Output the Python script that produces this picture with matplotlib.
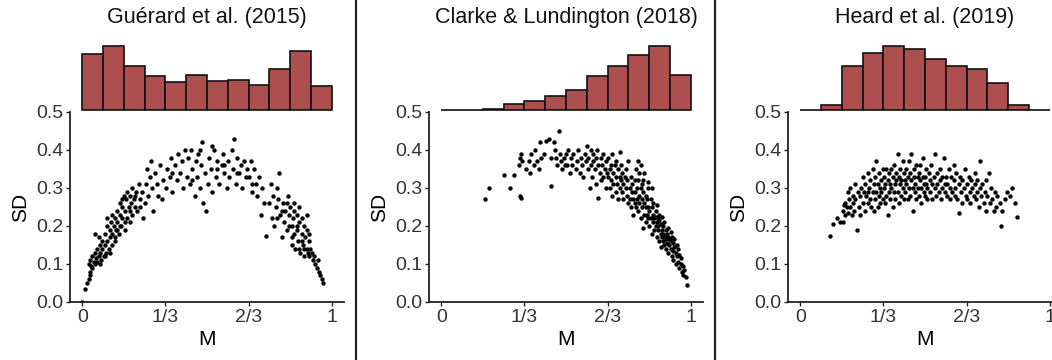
import numpy as np
import matplotlib
matplotlib.use("Agg")
import matplotlib.pyplot as plt
from matplotlib.lines import Line2D

plt.rcParams["font.family"] = ["Liberation Sans", "DejaVu Sans"]

# ── data ──────────────────────────────────────────────────────────────────────
titles = ["Guérard et al. (2015)", "Clarke & Lundington (2018)", "Heard et al. (2019)"]
tick_pos = [0, 1 / 3, 2 / 3, 1]
tick_lab = ["0", "1/3", "2/3", "1"]
bin_edges = np.linspace(0, 1, 13)

# histogram heights
hist_guerard = [67, 76, 52, 40, 33, 42, 34, 36, 30, 49, 70, 28]
hist_clarke = [0, 0, 1, 7, 11, 17, 24, 40, 52, 65, 76, 42]
hist_heard = [0, 6, 52, 68, 76, 72, 60, 52, 49, 32, 6, 0]

m_guerard = [
    0.00, 0.01, 0.02, 0.025, 0.03, 0.03, 0.025, 0.03, 0.035, 0.04, 0.04, 0.045, 0.05,
    0.05, 0.055, 0.06, 0.06, 0.065, 0.07, 0.07, 0.075, 0.08, 0.08, 0.05, 0.065,
    0.085, 0.09, 0.09, 0.095, 0.10, 0.10, 0.10, 0.105, 0.11, 0.11, 0.115, 0.12, 0.12, 0.12,
    0.125, 0.13, 0.13, 0.135, 0.14, 0.14, 0.145, 0.15, 0.15, 0.155, 0.16, 0.16, 0.165,
    0.17, 0.17, 0.175, 0.18, 0.185, 0.19, 0.19, 0.195, 0.20, 0.20, 0.205, 0.21, 0.215,
    0.22, 0.225, 0.23, 0.24, 0.245,
    0.25, 0.255, 0.26, 0.265, 0.27, 0.275, 0.28, 0.285, 0.29, 0.30, 0.305, 0.31, 0.32, 0.325,
    0.335, 0.34, 0.35, 0.355, 0.36, 0.37, 0.38, 0.385, 0.39, 0.40, 0.405, 0.41,
    0.42, 0.425, 0.43, 0.435, 0.44, 0.45, 0.455, 0.46, 0.465, 0.47, 0.475, 0.48, 0.485,
    0.49, 0.495,
    0.505, 0.51, 0.515, 0.52, 0.53, 0.535, 0.54, 0.55, 0.56, 0.565, 0.57, 0.58,
    0.585, 0.59, 0.60, 0.605, 0.61, 0.615, 0.62, 0.63, 0.635, 0.64, 0.65, 0.655, 0.66,
    0.67, 0.675, 0.68, 0.69, 0.695, 0.70, 0.71, 0.715, 0.72, 0.73, 0.735,
    0.75, 0.755, 0.76, 0.765, 0.77, 0.775, 0.78, 0.785, 0.79, 0.795, 0.80, 0.805, 0.81,
    0.815, 0.82, 0.825, 0.83,
    0.835, 0.84, 0.84, 0.845, 0.85, 0.85, 0.855, 0.86, 0.86, 0.865, 0.87, 0.87, 0.875,
    0.88, 0.88, 0.885, 0.89, 0.89, 0.895, 0.90, 0.90, 0.905, 0.91, 0.91, 0.915,
    0.92, 0.925, 0.93, 0.935, 0.94, 0.945, 0.95, 0.955, 0.96, 0.965,
    # extra points in the denser parts of the cloud
    0.07, 0.09, 0.11, 0.13, 0.15, 0.17, 0.19, 0.21, 0.23, 0.16, 0.18, 0.14,
    0.36, 0.44, 0.52, 0.57, 0.62, 0.68, 0.47, 0.54,
    0.78, 0.80, 0.82, 0.84, 0.86, 0.88, 0.90, 0.87, 0.85, 0.89, 0.83, 0.91,
]
sd_guerard = [
    0.00, 0.035, 0.05, 0.06, 0.07, 0.08, 0.10, 0.11, 0.095, 0.09, 0.12, 0.105, 0.10,
    0.13, 0.115, 0.14, 0.105, 0.12, 0.15, 0.13, 0.11, 0.16, 0.14, 0.18, 0.17,
    0.12, 0.15, 0.18, 0.13, 0.16, 0.20, 0.22, 0.14, 0.17, 0.19, 0.21, 0.15, 0.18, 0.23,
    0.20, 0.17, 0.22, 0.19, 0.24, 0.21, 0.18, 0.23, 0.26, 0.20, 0.22, 0.25, 0.28,
    0.19, 0.24, 0.27, 0.22, 0.25, 0.28, 0.21, 0.26, 0.23, 0.30, 0.27, 0.25, 0.29,
    0.24, 0.31, 0.27, 0.29, 0.22,
    0.26, 0.31, 0.35, 0.28, 0.33, 0.37, 0.30, 0.24, 0.34, 0.31, 0.28, 0.36, 0.27, 0.32,
    0.30, 0.35, 0.33, 0.38, 0.29, 0.36, 0.32, 0.39, 0.34, 0.37, 0.30, 0.40,
    0.33, 0.38, 0.31, 0.40, 0.35, 0.28, 0.37, 0.33, 0.39, 0.30, 0.36, 0.42, 0.26,
    0.34, 0.24,
    0.31, 0.38, 0.35, 0.29, 0.40, 0.33, 0.37, 0.31, 0.36, 0.39, 0.34, 0.30,
    0.37, 0.33, 0.40, 0.35, 0.43, 0.31, 0.38, 0.34, 0.36, 0.30, 0.37, 0.33, 0.35,
    0.33, 0.37, 0.29, 0.35, 0.31, 0.28, 0.33, 0.23, 0.30, 0.26, 0.175,
    0.26, 0.31, 0.22, 0.28, 0.20, 0.25, 0.30, 0.27, 0.34, 0.23, 0.17, 0.26, 0.21,
    0.24, 0.19, 0.28, 0.23,
    0.25, 0.20, 0.15, 0.22, 0.18, 0.26, 0.14, 0.23, 0.19, 0.16, 0.21, 0.25, 0.13,
    0.18, 0.22, 0.15, 0.20, 0.12, 0.17, 0.14, 0.23, 0.13, 0.16, 0.12, 0.14,
    0.13, 0.11, 0.12, 0.10, 0.09, 0.11, 0.08, 0.07, 0.06, 0.05,
    0.10, 0.12, 0.13, 0.16, 0.20, 0.21, 0.24, 0.28, 0.25, 0.27, 0.29, 0.19,
    0.34, 0.32, 0.41, 0.36, 0.34, 0.31,
    0.40, 0.35,
    0.22, 0.24, 0.26, 0.17, 0.20, 0.16, 0.19, 0.14, 0.24, 0.14, 0.20, 0.18,
]

m_clarke = [
    0.175, 0.19,
    0.25, 0.275, 0.29, 0.31, 0.315, 0.32, 0.325, 0.315, 0.318,
    0.34, 0.35, 0.355, 0.36, 0.37, 0.375, 0.385, 0.39, 0.40, 0.395, 0.41,
    0.42, 0.43, 0.44, 0.45, 0.455, 0.46, 0.465, 0.47, 0.475, 0.48, 0.485, 0.49, 0.495, 0.44,
    0.50, 0.505, 0.51, 0.515, 0.52, 0.525, 0.53, 0.54, 0.545, 0.55, 0.555, 0.56, 0.565,
    0.57, 0.575, 0.58,
    0.585, 0.59, 0.59, 0.595, 0.60, 0.60, 0.605, 0.61, 0.61, 0.615, 0.62, 0.62, 0.625,
    0.63, 0.63, 0.635, 0.64, 0.64, 0.645, 0.65, 0.65, 0.655, 0.66, 0.66, 0.665,
    0.67, 0.67, 0.675, 0.675, 0.68, 0.68, 0.685, 0.685, 0.69, 0.69, 0.695, 0.70, 0.70,
    0.70, 0.705, 0.71, 0.71, 0.715, 0.715, 0.72, 0.72, 0.725, 0.725, 0.73, 0.73, 0.735,
    0.74, 0.74, 0.745, 0.745, 0.75, 0.75, 0.717,
    0.755, 0.755, 0.76, 0.76, 0.765, 0.765, 0.77, 0.77, 0.775, 0.775, 0.78, 0.78, 0.785,
    0.785, 0.79, 0.79, 0.79, 0.795, 0.795, 0.80, 0.80, 0.80, 0.805, 0.805, 0.81, 0.81,
    0.81, 0.815, 0.815, 0.82, 0.82, 0.82, 0.825, 0.825, 0.83, 0.83, 0.83, 0.815, 0.795,
    0.775, 0.805,
    0.835, 0.835, 0.84, 0.84, 0.845, 0.845, 0.85, 0.85, 0.85, 0.855, 0.855, 0.86, 0.86,
    0.86, 0.865, 0.865, 0.865, 0.87, 0.87, 0.87, 0.875, 0.875, 0.875, 0.88, 0.88, 0.88,
    0.885, 0.885, 0.885, 0.89, 0.89, 0.89, 0.895, 0.895, 0.895, 0.90, 0.90, 0.90, 0.905,
    0.905, 0.91, 0.91, 0.91, 0.915, 0.915, 0.845, 0.83,
    0.92, 0.92, 0.92, 0.925, 0.925, 0.93, 0.93, 0.93, 0.935, 0.935, 0.94, 0.94, 0.945,
    0.945, 0.95, 0.95, 0.955, 0.955, 0.96, 0.96, 0.965, 0.97, 0.97, 0.975, 0.98, 0.985,
]
sd_clarke = [
    0.27, 0.30,
    0.335, 0.30, 0.335, 0.36, 0.38, 0.39, 0.37, 0.28, 0.275,
    0.35, 0.37, 0.34, 0.39, 0.36, 0.40, 0.37, 0.35, 0.38, 0.42, 0.39,
    0.425, 0.43, 0.305, 0.42, 0.40, 0.38, 0.36, 0.45, 0.39, 0.37, 0.35, 0.38, 0.36, 0.38,
    0.39, 0.36, 0.40, 0.34, 0.38, 0.36, 0.39, 0.35, 0.37, 0.40, 0.34, 0.38, 0.36,
    0.33, 0.39, 0.37,
    0.41, 0.35, 0.38, 0.30, 0.40, 0.36, 0.33, 0.39, 0.37, 0.35, 0.38, 0.31, 0.40,
    0.36, 0.275, 0.34, 0.38, 0.32, 0.36, 0.39, 0.33, 0.35, 0.37, 0.30, 0.34,
    0.38, 0.33, 0.35, 0.30, 0.36, 0.32, 0.39, 0.28, 0.34, 0.31, 0.36, 0.33, 0.29,
    0.37, 0.31, 0.35, 0.27, 0.33, 0.30, 0.36, 0.32, 0.29, 0.34, 0.31, 0.27, 0.33,
    0.35, 0.30, 0.28, 0.32, 0.26, 0.37, 0.395,
    0.30, 0.27, 0.33, 0.25, 0.29, 0.31, 0.27, 0.23, 0.32, 0.29, 0.25, 0.35, 0.30,
    0.27, 0.37, 0.24, 0.32, 0.28, 0.26, 0.36, 0.30, 0.22, 0.27, 0.25, 0.29, 0.195,
    0.32, 0.26, 0.23, 0.28, 0.25, 0.21, 0.27, 0.23, 0.30, 0.25, 0.22, 0.34, 0.34,
    0.26, 0.31,
    0.24, 0.20, 0.27, 0.22, 0.25, 0.18, 0.23, 0.21, 0.26, 0.22, 0.19, 0.24, 0.20,
    0.225, 0.21, 0.17, 0.255, 0.22, 0.19, 0.20, 0.16, 0.215, 0.23, 0.18, 0.205, 0.145,
    0.19, 0.225, 0.17, 0.20, 0.16, 0.18, 0.21, 0.15, 0.175, 0.19, 0.165, 0.14, 0.18,
    0.155, 0.17, 0.13, 0.195, 0.15, 0.165, 0.30, 0.315,
    0.185, 0.16, 0.14, 0.17, 0.12, 0.155, 0.135, 0.11, 0.165, 0.145, 0.10, 0.13, 0.15,
    0.12, 0.105, 0.14, 0.09, 0.125, 0.10, 0.115, 0.08, 0.095, 0.07, 0.085, 0.065, 0.045,
]

m_heard = [
    0.12, 0.13, 0.145, 0.16,
    0.17, 0.17, 0.175, 0.18, 0.18, 0.185, 0.19, 0.19, 0.195, 0.20, 0.20, 0.205, 0.21,
    0.21, 0.215, 0.22, 0.22, 0.225, 0.23, 0.235, 0.24, 0.24, 0.245,
    0.25, 0.25, 0.255, 0.26, 0.26, 0.265, 0.27, 0.27, 0.275, 0.28, 0.28, 0.285, 0.29,
    0.29, 0.295, 0.30, 0.30, 0.305, 0.305, 0.31, 0.31, 0.315, 0.315, 0.32, 0.32, 0.325,
    0.325, 0.33, 0.33, 0.295, 0.27,
    0.335, 0.335, 0.34, 0.34, 0.345, 0.345, 0.35, 0.35, 0.355, 0.355, 0.36, 0.36, 0.365,
    0.365, 0.37, 0.37, 0.375, 0.375, 0.38, 0.38, 0.385, 0.385, 0.39, 0.39, 0.395, 0.395,
    0.40, 0.40, 0.405, 0.405, 0.41, 0.41, 0.415, 0.415,
    0.42, 0.42, 0.425, 0.425, 0.43, 0.43, 0.435, 0.435, 0.44, 0.44, 0.445, 0.445, 0.45,
    0.45, 0.455, 0.455, 0.46, 0.46, 0.465, 0.465, 0.47, 0.47, 0.475, 0.475, 0.48, 0.48,
    0.485, 0.485, 0.49, 0.49, 0.495, 0.495,
    0.50, 0.50, 0.505, 0.505, 0.51, 0.51, 0.515, 0.52, 0.52, 0.525, 0.53, 0.53, 0.535,
    0.54, 0.54, 0.545, 0.55, 0.55, 0.555, 0.56, 0.56, 0.565, 0.57, 0.57, 0.575, 0.58, 0.58,
    0.585, 0.59, 0.59, 0.595, 0.60, 0.60, 0.605, 0.61, 0.615, 0.615, 0.62, 0.62, 0.625,
    0.63, 0.635, 0.635, 0.64, 0.645, 0.65, 0.65, 0.655, 0.66, 0.665,
    0.67, 0.67, 0.675, 0.68, 0.68, 0.685, 0.69, 0.695, 0.70, 0.70, 0.705, 0.71, 0.71,
    0.715, 0.72, 0.72, 0.725, 0.73, 0.735, 0.74, 0.745, 0.745,
    0.75, 0.755, 0.76, 0.765, 0.77, 0.775, 0.78, 0.785, 0.79, 0.80, 0.805, 0.81, 0.82, 0.83,
    0.84, 0.85, 0.86, 0.87,
]
sd_heard = [
    0.175, 0.205, 0.22, 0.21,
    0.24, 0.21, 0.255, 0.23, 0.26, 0.25, 0.29, 0.235, 0.27, 0.25, 0.30, 0.23, 0.28,
    0.26, 0.24, 0.31, 0.27, 0.19, 0.29, 0.25, 0.28, 0.23, 0.30,
    0.26, 0.33, 0.29, 0.24, 0.31, 0.28, 0.34, 0.26, 0.30, 0.27, 0.32, 0.25, 0.29,
    0.35, 0.31, 0.27, 0.33, 0.37, 0.29, 0.25, 0.31, 0.28, 0.34, 0.30, 0.26, 0.32,
    0.29, 0.35, 0.27, 0.24, 0.29,
    0.30, 0.33, 0.26, 0.31, 0.35, 0.28, 0.32, 0.23, 0.29, 0.34, 0.27, 0.31, 0.35,
    0.30, 0.25, 0.33, 0.29, 0.36, 0.31, 0.27, 0.34, 0.32, 0.29, 0.39, 0.33, 0.26,
    0.31, 0.35, 0.28, 0.32, 0.37, 0.30, 0.34, 0.27,
    0.32, 0.29, 0.35, 0.31, 0.27, 0.33, 0.37, 0.30, 0.34, 0.28, 0.32, 0.39, 0.30,
    0.24, 0.35, 0.33, 0.29, 0.31, 0.36, 0.27, 0.33, 0.30, 0.34, 0.28, 0.32, 0.36,
    0.30, 0.26, 0.33, 0.38, 0.31, 0.29,
    0.33, 0.28, 0.31, 0.35, 0.30, 0.27, 0.34, 0.32, 0.29, 0.36, 0.31, 0.27, 0.33,
    0.30, 0.39, 0.28, 0.34, 0.31, 0.29, 0.35, 0.32, 0.27, 0.30, 0.33, 0.38, 0.29, 0.31,
    0.33, 0.28, 0.31, 0.35, 0.30, 0.27, 0.33, 0.29, 0.32, 0.36, 0.28, 0.30, 0.34,
    0.27, 0.235, 0.31, 0.33, 0.29, 0.32, 0.26, 0.30, 0.35, 0.28,
    0.31, 0.27, 0.33, 0.29, 0.26, 0.32, 0.30, 0.28, 0.34, 0.31, 0.27, 0.29, 0.32,
    0.25, 0.37, 0.30, 0.28, 0.31, 0.26, 0.29, 0.32, 0.24,
    0.28, 0.34, 0.26, 0.30, 0.27, 0.24, 0.29, 0.25, 0.28, 0.26, 0.20, 0.24, 0.27, 0.29,
    0.28, 0.30, 0.26, 0.225,
]

panels = [
    (m_guerard, sd_guerard, hist_guerard),
    (m_clarke, sd_clarke, hist_clarke),
    (m_heard, sd_heard, hist_heard),
]

# ── layout ────────────────────────────────────────────────────────────────────
W, H = 1052, 360
fig = plt.figure(figsize=(W / 100, H / 100), dpi=100)
fig.patch.set_facecolor("white")

bar_color = "#AD4F4F"
xlim = (-0.05, 1.05)
lefts = [70, 429, 788]
ax_w = 274

for i, (m, sd, counts) in enumerate(panels):
    left = lefts[i] / W

    # scatter
    ax = fig.add_axes([left, 1 - 302 / H, ax_w / W, 190 / H])
    ax.scatter(m, sd, s=10, color="black", linewidths=0)
    ax.set_xlim(*xlim)
    ax.set_ylim(0, 0.5)
    ax.set_xticks(tick_pos)
    ax.set_xticklabels(tick_lab)
    ax.set_yticks([0, 0.1, 0.2, 0.3, 0.4, 0.5])
    ax.set_yticklabels(["0.0", "0.1", "0.2", "0.3", "0.4", "0.5"])
    for s in ["top", "right"]:
        ax.spines[s].set_visible(False)
    for s in ["left", "bottom"]:
        ax.spines[s].set_linewidth(1.3)
        ax.spines[s].set_color("#222222")
    ax.tick_params(labelsize=14, length=3, width=1, colors="#222222",
                   labelcolor="#333333", pad=2)
    ax.set_xlabel("M", fontsize=15, labelpad=3)
    ax.set_ylabel("SD", fontsize=15, labelpad=4)

    # marginal histogram
    hx = fig.add_axes([left, 1 - 110 / H, ax_w / W, 64 / H])
    hx.bar(bin_edges[:-1], counts, width=np.diff(bin_edges), align="edge",
           color=bar_color, edgecolor="#111111", linewidth=1.2)
    hx.set_xlim(*xlim)
    hx.set_ylim(0, max(counts))
    hx.axis("off")
    for p in hx.patches:
        p.set_clip_on(False)

    fig.text(left + ax_w / W / 2, 1 - 18 / H, titles[i],
             ha="center", va="center", fontsize=15.5, color="#111111")

# vertical separators between panels
for x in [356, 715]:
    fig.add_artist(Line2D([x / W, x / W], [0, 1], color="#222222", linewidth=1.6))

fig.savefig("out.png", dpi=100)
